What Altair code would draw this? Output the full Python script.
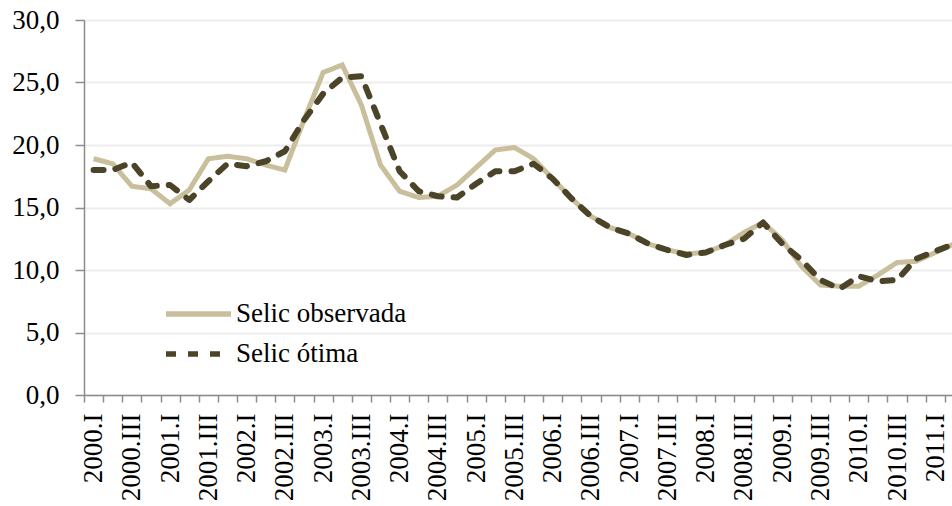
import altair as alt
import pandas as pd

# Quarterly Selic rate (% a.a.), 2000.I to 2011.II
anos = list(range(2000, 2012))
trimestres = ["I", "II", "III", "IV"]
periodos = [f"{a}.{t}" for a in anos for t in trimestres][:46]

selic_observada = [
    18.9, 18.5, 16.7, 16.5, 15.3, 16.4, 18.9, 19.1, 18.9, 18.4,
    18.0, 22.0, 25.8, 26.4, 23.2, 18.4, 16.3, 15.8, 15.9, 16.8,
    18.2, 19.6, 19.8, 18.9, 17.3, 15.7, 14.3, 13.4, 12.9, 12.1,
    11.6, 11.3, 11.4, 12.0, 13.0, 13.8, 12.4, 10.3, 8.8, 8.7,
    8.7, 9.6, 10.6, 10.7, 11.4, 12.1,
]
selic_otima = [
    18.0, 18.0, 18.6, 16.7, 16.8, 15.6, 17.1, 18.5, 18.3, 18.7,
    19.5, 22.0, 24.1, 25.4, 25.5, 21.7, 17.9, 16.3, 15.9, 15.8,
    16.9, 17.9, 17.9, 18.5, 17.3, 15.7, 14.3, 13.4, 12.9, 12.1,
    11.6, 11.2, 11.4, 12.0, 12.5, 13.8, 12.1, 10.8, 9.2, 8.5,
    9.5, 9.1, 9.2, 10.9, 11.5, 12.1,
]

series = ["Selic observada", "Selic ótima"]
cores = ["#C9BF9C", "#4B4429"]
tracos = [[1, 0], [10, 12]]

df = pd.DataFrame(
    [{"i": i, "periodo": p, "serie": series[0], "valor": v}
     for i, (p, v) in enumerate(zip(periodos, selic_observada))]
    + [{"i": i, "periodo": p, "serie": series[1], "valor": v}
       for i, (p, v) in enumerate(zip(periodos, selic_otima))]
)

FONT = "Liberation Serif"
FS = 27
W, H = 868, 375

# category boundaries carry the ticks, category centres carry the labels
valores_eixo = sorted([k - 0.5 for k in range(46)] + list(range(45)))
lista_js = "[" + ",".join(f"'{p}'" for p in periodos) + "]"
rotulo_expr = f"datum.value % 2 == 0 ? {lista_js}[datum.value] : ''"

x_enc = alt.X(
    "i:Q",
    scale=alt.Scale(domain=[-0.5, W / 19.13 - 0.5], nice=False, zero=False),
    axis=alt.Axis(
        values=valores_eixo,
        labelExpr=rotulo_expr,
        labelAngle=-90,
        labelAlign="right",
        labelBaseline="middle",
        labelOverlap=False,
        labelFlush=False,
        labelPadding=11,
        labelFont=FONT,
        labelFontSize=FS,
        labelColor="#000000",
        tickSize=7,
        tickColor="#8C8C8C",
        tickWidth=1.5,
        tickOpacity={"expr": "datum.value % 1 == 0 ? 0 : 1"},
        domainColor="#8C8C8C",
        domainWidth=1.5,
        grid=False,
        title=None,
    ),
)

y_enc = alt.Y(
    "valor:Q",
    scale=alt.Scale(domain=[0, 30], nice=False),
    axis=alt.Axis(
        values=[0, 5, 10, 15, 20, 25, 30],
        labelExpr="replace(format(datum.value, '.1f'), '.', ',')",
        labelFont=FONT,
        labelFontSize=FS,
        labelColor="#000000",
        labelPadding=16,
        tickSize=9,
        tickColor="#8C8C8C",
        tickWidth=1.5,
        domainColor="#8C8C8C",
        domainWidth=1.5,
        gridColor="#EDEDED",
        gridWidth=2,
        title=None,
    ),
)

cor_enc = alt.Color(
    "serie:N",
    scale=alt.Scale(domain=series, range=cores),
    legend=alt.Legend(
        title=None,
        orient="none",
        legendX=79,
        legendY=278,
        symbolType="stroke",
        symbolSize=4225,
        symbolStrokeWidth=5.5,
        labelFont=FONT,
        labelFontSize=FS,
        labelColor="#000000",
        labelOffset=2,
        labelLimit=0,
        clipHeight=32,
        rowPadding=8,
    ),
)
traco_enc = alt.StrokeDash(
    "serie:N",
    scale=alt.Scale(domain=series, range=tracos),
    legend=None,
)

base = alt.Chart(df).encode(x=x_enc, y=y_enc, color=cor_enc, strokeDash=traco_enc)

linha_obs = base.transform_filter(alt.datum.serie == series[0]).mark_line(
    strokeWidth=5, clip=True, strokeJoin="miter"
)
linha_otima = base.transform_filter(alt.datum.serie == series[1]).mark_line(
    strokeWidth=6, clip=True, strokeCap="round", strokeJoin="round"
)

chart = (
    alt.layer(linha_obs, linha_otima)
    .properties(
        width=W,
        height=H,
        autosize=alt.AutoSizeParams(type="none"),
        padding={"left": 84, "top": 20, "right": 0, "bottom": 111},
        background="#FFFFFF",
    )
    .configure_view(stroke=None)
)

chart.save("out.html", embed_options={"renderer": "svg", "actions": False})
